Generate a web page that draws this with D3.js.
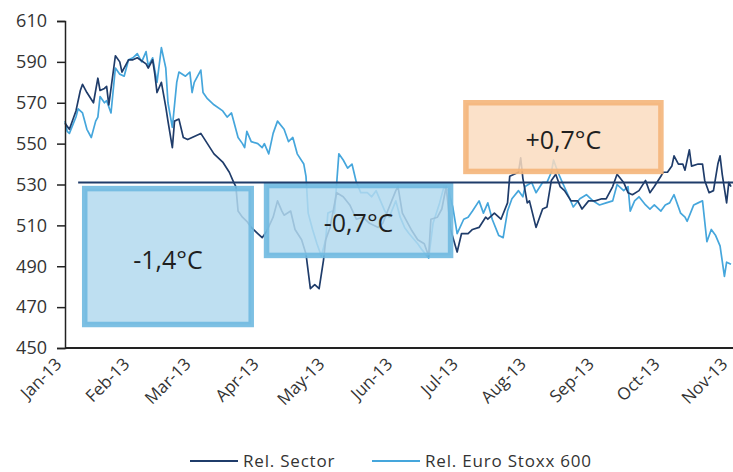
<!DOCTYPE html>
<html>
<head>
<meta charset="utf-8">
<script src="https://cdn.jsdelivr.net/npm/d3@7"></script>
<style>
  body { margin: 0; background: #fff; }
  svg { display: block; font-family: "Open Sans", sans-serif; }
</style>
</head>
<body>
<svg width="733" height="472"></svg>
<script>
// days since 1 Jan 2013 and index levels
const sectorDays = [0,2,5,7,8,10,13,15,16,18,19,20,23,25,26,29,31,33,37,38,40,41,42,44,46,47,49,50,52,54,56,58,62,65,68,72,75,77,78,79,81,83,85,88,90,92,95,97,99,100,103,105,108,110,112,114,116,118,119,121,124,127,130,133,136,139,143,145,148,151,152,154,158,161,164,166,167,170,172,174,176,179,181,184,186,189,192,193,196,199,202,203,205,207,208,209,211,212,215,218,220,222,224,226,228,231,234,236,239,242,245,247,250,252,255,257,259,262,265,267,269,272,273,275,277,278,280,282,283,285,286,289,291,292,294,296,298,299,300,302,303,304];
const sectorValues = [560,557,566,576,579,575,570,582,576,577,578,569,593,590,585,591,591,592,589,587,591,584,575,580,568,561,548,561,562,553,552,553,555,550,545,541,536,531,529,517,514,512,509,506,504,507,514,522,517,515,517,508,503,496,479,481,479,493,503,509,526,524,520,513,514,511,509,511,519,527,529,516,508,503,501,495,513,514,518,529,508,497,506,506,508,509,514,513,516,513,521,534,535,536,543,533,521,522,509,518,519,532,535,529,527,522,522,518,522,522,523,523,529,535,531,526,525,527,532,526,529,534,536,536,539,544,540,540,537,547,539,540,540,532,526,527,540,544,535,521,531,529];

const stoxxDays = [0,1,2,5,6,8,10,12,14,15,16,18,19,21,23,25,27,29,31,33,35,37,38,40,42,44,46,47,49,51,52,55,57,58,59,62,63,65,68,72,74,76,79,81,82,83,85,88,90,91,93,95,97,100,102,104,106,109,110,111,113,115,117,119,120,122,123,125,127,129,131,133,135,138,140,142,144,146,148,151,153,155,157,161,163,166,168,171,173,175,177,179,182,184,186,189,191,193,195,198,200,202,204,207,209,210,213,215,218,220,222,223,225,227,230,232,235,238,241,244,247,250,252,255,257,258,260,262,265,267,269,272,274,276,278,281,283,284,287,289,291,293,295,297,299,301,302,304];
const stoxxValues = [561,556,555,563,567,565,557,553,561,563,573,570,571,565,587,584,583,591,592,594,590,595,588,592,580,597,587,570,558,580,585,583,585,575,580,586,575,572,569,566,563,565,553,550,548,556,551,550,548,550,545,555,561,557,551,553,545,540,534,516,508,501,495,503,516,517,516,545,542,538,540,531,526,526,524,527,522,517,514,522,514,509,506,501,498,494,511,521,529,527,519,506,513,514,517,522,516,521,513,505,504,517,523,527,524,529,531,526,531,531,536,542,536,531,524,519,523,525,522,520,521,522,530,527,529,517,522,524,520,518,520,517,520,521,525,516,514,512,520,521,522,502,508,505,500,485,492,491];

const seriesNames = ["Rel. Sector", "Rel. Euro Stoxx 600"];
const seriesColors = ["#1f3c6a", "#45a6dc"];

const yTicks = [450, 470, 490, 510, 530, 550, 570, 590, 610];
const refLevel = 531, refFromDay = 6;

// highlighted periods: day range, level range, label
const boxLabels = ["-1,4°C", "-0,7°C", "+0,7°C"];
const boxFrom = [9, 92, 183];
const boxTo = [85, 176, 272];
const boxHigh = [528, 529.5, 570];
const boxLow = [461.5, 495.3, 536.4];
const boxFill = ["#b3d9ee", "#b3d9ee", "#fadcc0"];
const boxEdge = ["#6fb9e0", "#6fb9e0", "#f4b57a"];

const svg = d3.select("svg");
const start = new Date(2013, 0, 1);
const toDate = d => d3.timeDay.offset(start, d);

const x = d3.scaleTime()
    .domain([start, new Date(2013, 10, 1)])
    .range([65, 731]);
const y = d3.scaleLinear()
    .domain([450, 610])
    .range([348, 21]);

const line = d3.line()
    .x(d => x(d[0]))
    .y(d => y(d[1]));

const series = [
  d3.zip(sectorDays.map(toDate), sectorValues),
  d3.zip(stoxxDays.map(toDate), stoxxValues)
];

// lines (light one under dark one)
svg.selectAll("path.series")
    .data([series[1], series[0]])
    .enter().append("path")
    .attr("class", "series")
    .attr("d", line)
    .attr("fill", "none")
    .attr("stroke", (d, i) => i === 0 ? seriesColors[1] : seriesColors[0])
    .attr("stroke-width", 1.7)
    .attr("stroke-linejoin", "round");

// boxes over the lines
const box = svg.selectAll("g.box")
    .data(boxLabels)
    .enter().append("g")
    .attr("class", "box");

box.append("rect")
    .attr("x", (d, i) => x(toDate(boxFrom[i])))
    .attr("y", (d, i) => y(boxHigh[i]))
    .attr("width", (d, i) => x(toDate(boxTo[i])) - x(toDate(boxFrom[i])))
    .attr("height", (d, i) => y(boxLow[i]) - y(boxHigh[i]))
    .attr("fill", (d, i) => boxFill[i])
    .attr("fill-opacity", 0.85)
    .attr("stroke", (d, i) => boxEdge[i])
    .attr("stroke-opacity", 0.9)
    .attr("stroke-width", 5.5);

box.append("text")
    .attr("x", (d, i) => (x(toDate(boxFrom[i])) + x(toDate(boxTo[i]))) / 2)
    .attr("y", (d, i) => (y(boxHigh[i]) + y(boxLow[i])) / 2 + 2)
    .attr("text-anchor", "middle")
    .attr("dominant-baseline", "central")
    .style("font-size", "25px")
    .style("fill", "#1f1f1f")
    .text(d => d);

// reference line
svg.append("line")
    .attr("x1", x(toDate(refFromDay)))
    .attr("x2", 733)
    .attr("y1", y(refLevel))
    .attr("y2", y(refLevel))
    .attr("stroke", "#1f3c6a")
    .attr("stroke-width", 2);

// y axis
const yAxis = svg.append("g")
    .attr("transform", "translate(65,0)")
    .call(d3.axisLeft(y).tickValues(yTicks).tickSize(8).tickPadding(10));
yAxis.select(".domain").attr("stroke", "#222").attr("stroke-width", 1.5);
yAxis.selectAll(".tick line").attr("stroke", "#222").attr("stroke-width", 1.5);
yAxis.selectAll("text")
    .style("font-size", "18px")
    .style("fill", "#333")
    .style("font-family", "'Open Sans', sans-serif");

// x axis
const xAxis = svg.append("g")
    .attr("transform", "translate(0,348)")
    .call(d3.axisBottom(x).ticks(d3.timeMonth.every(1)).tickFormat(d3.timeFormat("%b-%y")).tickSize(0));
xAxis.select(".domain").attr("stroke", "#222").attr("stroke-width", 2).attr("d", "M65,0H733");
xAxis.selectAll("text")
    .attr("text-anchor", "end")
    .attr("dy", "0.35em")
    .attr("transform", "translate(-7,13) rotate(-45)")
    .attr("y", 0)
    .attr("x", 0)
    .style("font-size", "17px")
    .style("fill", "#333")
    .style("font-family", "'Open Sans', sans-serif");

// legend
const legendX = [190, 372];
const legend = svg.selectAll("g.legend")
    .data(seriesNames)
    .enter().append("g")
    .attr("class", "legend")
    .attr("transform", (d, i) => "translate(" + legendX[i] + ",461)");
legend.append("line")
    .attr("x1", 0).attr("x2", 48)
    .attr("stroke", (d, i) => seriesColors[i])
    .attr("stroke-width", 2);
legend.append("text")
    .attr("x", 53)
    .attr("dy", "0.35em")
    .style("font-size", "17px")
    .style("letter-spacing", "0.8px")
    .style("fill", "#333")
    .text(d => d);
</script>
</body>
</html>
